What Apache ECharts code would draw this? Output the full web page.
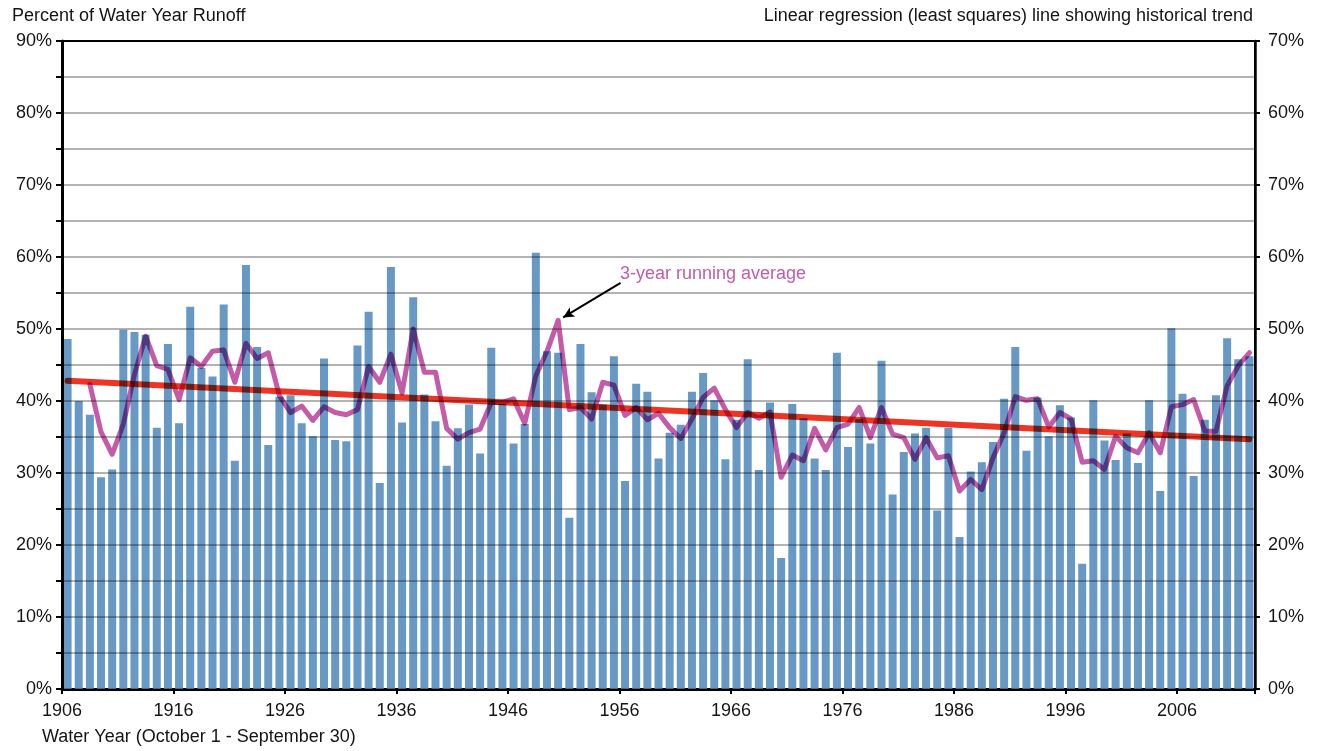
<!DOCTYPE html>
<html>
<head>
<meta charset="utf-8">
<script src="https://cdn.jsdelivr.net/npm/echarts@6/dist/echarts.min.js"></script>
<style>
  html, body { margin: 0; padding: 0; background: #fff; }
  #chart { width: 1324px; height: 751px; }
</style>
</head>
<body>
<div id="chart"></div>
<script>
// water years, one bar each, 1906 .. 2012
const firstYear = 1906;
const runoff = [
  48.6, 40.0, 38.1, 29.4, 30.5, 49.9, 49.6, 49.2, 36.3, 47.9,
  36.9, 53.1, 44.6, 43.4, 53.4, 31.7, 58.9, 47.5, 33.9, 40.6,
  40.8, 36.9, 35.1, 45.9, 34.6, 34.4, 47.7, 52.4, 28.6, 58.6,
  37.0, 54.4, 40.9, 37.2, 31.0, 36.2, 39.5, 32.7, 47.4, 39.6,
  34.1, 36.8, 60.6, 46.9, 46.7, 23.8, 47.9, 41.2, 39.5, 46.2,
  28.9, 42.4, 41.3, 32.0, 35.6, 36.7, 41.3, 43.9, 40.1, 31.9,
  37.4, 45.8, 30.4, 39.8, 18.2, 39.6, 37.6, 32.0, 30.4, 46.7,
  33.6, 37.5, 34.1, 45.6, 27.0, 32.9, 35.5, 36.3, 24.8, 36.3,
  21.1, 30.2, 31.5, 34.3, 40.3, 47.5, 33.1, 40.5, 35.1, 39.4,
  37.7, 17.4, 40.1, 34.5, 31.8, 35.5, 31.4, 40.1, 27.5, 50.1,
  41.0, 29.6, 37.4, 40.8, 48.7, 45.8, 46.2
];

// 3-year running average, 1908 .. 2012
const avgStartYear = 1908;
const runningAvg = [
  42.3, 35.7, 32.6, 36.8, 43.7, 49.0, 44.9, 44.4, 40.2, 46.0,
  44.8, 46.9, 47.1, 42.6, 48.0, 45.9, 46.7, 40.7, 38.4, 39.3,
  37.3, 39.2, 38.4, 38.1, 38.8, 44.8, 42.6, 46.5, 41.1, 50.0,
  44.0, 44.0, 36.2, 34.7, 35.6, 36.1, 39.8, 39.8, 40.3, 36.9,
  43.5, 46.9, 51.2, 38.8, 39.1, 37.5, 42.6, 42.2, 38.0, 39.1,
  37.4, 38.3, 36.3, 34.8, 37.5, 40.5, 41.8, 38.8, 36.3, 38.4,
  37.6, 38.5, 29.4, 32.5, 31.7, 36.2, 33.2, 36.3, 36.8, 39.1,
  34.9, 39.1, 35.4, 34.9, 31.9, 34.9, 32.1, 32.4, 27.5, 29.1,
  27.7, 32.1, 35.6, 40.6, 40.1, 40.3, 36.4, 38.4, 37.5, 31.5,
  31.7, 30.5, 35.1, 33.5, 32.8, 35.6, 32.8, 39.2, 39.5, 40.2,
  35.8, 35.8, 42.1, 44.9, 46.7
];

// least squares trend, end points
const trendYears = [1906, 2012];
const trendValues = [42.8, 34.7];

const xTickLabels = ['1906', '1916', '1926', '1936', '1946', '1956', '1966', '1976', '1986', '1996', '2006'];
const rightTickLabels = ['0%', '10%', '20%', '30%', '40%', '50%', '60%', '70%', '60%', '70%'];

const FONT = '"Liberation Sans", Arial, sans-serif';
const TEXT = '#141414';
const PINK = '#c45ba8';

// year -> position on the x axis (centre of its band)
const pos = year => year - firstYear + 0.5;

const chart = echarts.init(document.getElementById('chart'));

const option = {
  backgroundColor: '#fff',
  animation: false,
  grid: {
    left: 62, right: 69, top: 41, bottom: 62,
    show: true, borderColor: '#000', borderWidth: 2, backgroundColor: 'transparent'
  },
  graphic: [
    { type: 'text', left: 12, top: 7, style: { text: 'Percent of Water Year Runoff', font: '18px ' + FONT, fill: TEXT } },
    { type: 'text', right: 71, top: 7, style: { text: 'Linear regression (least squares) line showing historical trend', font: '18px ' + FONT, fill: TEXT } },
    { type: 'text', left: 42, top: 728, style: { text: 'Water Year (October 1 - September 30)', font: '18px ' + FONT, fill: TEXT } },
    { type: 'text', left: 620, top: 265, z: 20, style: { text: '3-year running average', font: '18px ' + FONT, fill: PINK } }
  ],
  xAxis: {
    type: 'value',
    min: 0,
    max: runoff.length,
    interval: 10,
    axisLine: { show: true, lineStyle: { color: '#000', width: 3 } },
    axisTick: { show: true, length: 5, lineStyle: { color: '#000', width: 2 } },
    axisLabel: {
      fontFamily: FONT, fontSize: 18, color: TEXT, margin: 13,
      formatter: v => (v % 10 === 0 && v / 10 < xTickLabels.length) ? xTickLabels[v / 10] : ''
    },
    splitLine: { show: false }
  },
  yAxis: [
    {
      type: 'value',
      min: 0, max: 90, interval: 5,
      z: 3,
      axisLine: { show: true, lineStyle: { color: '#000', width: 3 } },
      axisTick: { show: true, length: 6, lineStyle: { color: '#000', width: 2 } },
      axisLabel: {
        fontFamily: FONT, fontSize: 18, color: TEXT, margin: 10,
        formatter: v => (v % 10 === 0 ? v + '%' : '')
      },
      splitLine: { show: true, lineStyle: { color: 'rgba(0,0,0,0.4)', width: 1.5 } }
    },
    {
      type: 'value',
      position: 'right',
      min: 0, max: 90, interval: 10,
      z: 3,
      axisLine: { show: true, lineStyle: { color: '#000', width: 2.5 } },
      axisTick: { show: true, length: 5, lineStyle: { color: '#000', width: 2 } },
      axisLabel: {
        fontFamily: FONT, fontSize: 18, color: TEXT, margin: 13,
        formatter: v => rightTickLabels[Math.round(v / 10)]
      },
      splitLine: { show: false }
    }
  ],
  series: [
    {
      name: 'Runoff',
      type: 'bar',
      z: 2,
      barWidth: 8,
      itemStyle: { color: '#6899c4' },
      data: runoff.map((v, i) => [pos(firstYear + i), v])
    },
    {
      name: 'Trend',
      type: 'line',
      z: 4,
      blendMode: 'multiply',
      showSymbol: false,
      symbol: 'none',
      lineStyle: { color: '#ee3424', width: 6, cap: 'round' },
      data: trendYears.map((y, i) => [pos(y), trendValues[i]])
    },
    {
      name: '3-year running average',
      type: 'line',
      z: 5,
      blendMode: 'multiply',
      showSymbol: false,
      symbol: 'none',
      lineStyle: { color: PINK, width: 5, cap: 'round', join: 'round' },
      data: runningAvg.map((v, i) => [pos(avgStartYear + i), v]),
      markLine: {
        silent: true,
        symbol: ['arrow', 'none'],
        symbolSize: [8, 11],
        label: { show: false },
        lineStyle: { color: '#000', width: 2, type: 'solid' },
        data: [[{ coord: [pos(1950) + 0.45, 51.6] }, { coord: [pos(1950) + 5.6, 56.4] }]]
      }
    }
  ]
};

chart.setOption(option);
</script>
</body>
</html>
